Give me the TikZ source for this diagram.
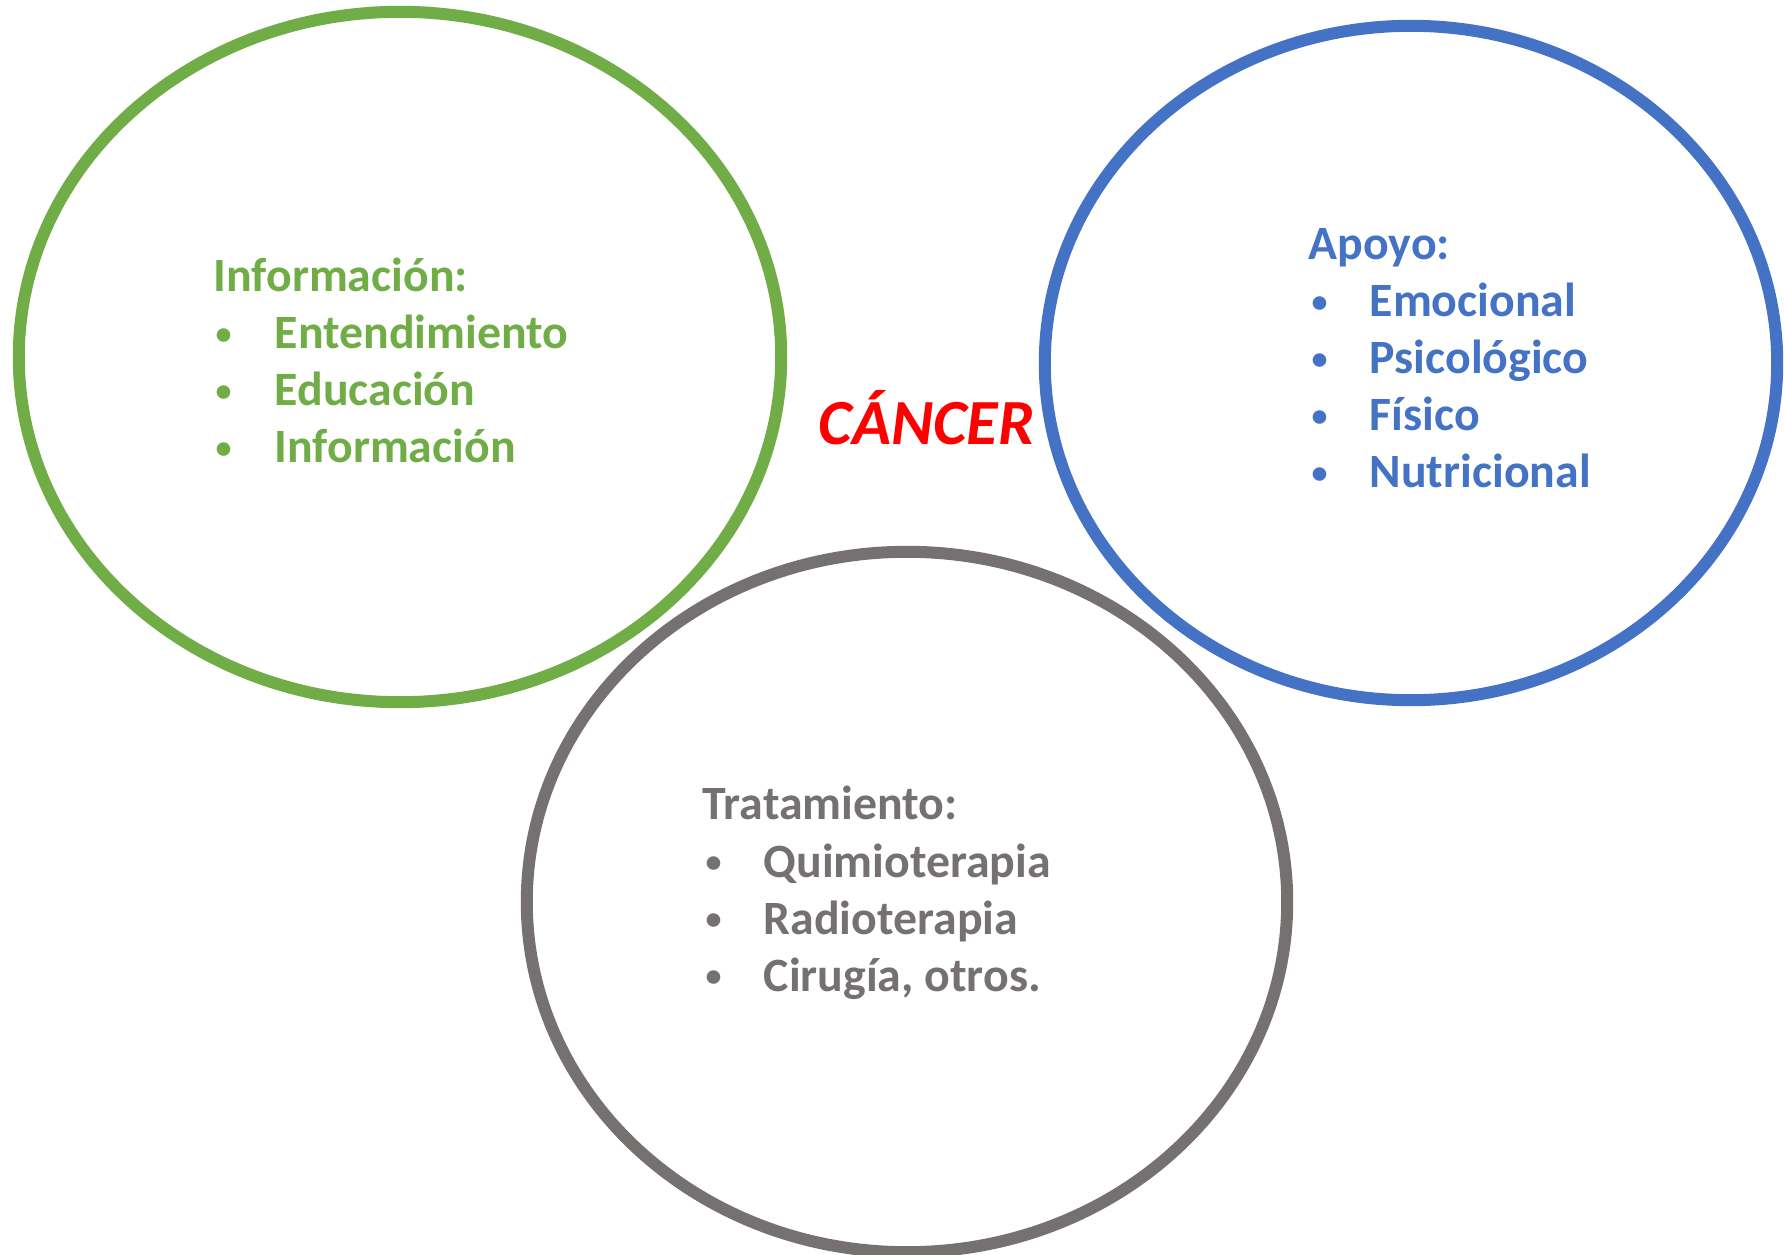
\documentclass[tikz,border=0pt]{standalone}
\usepackage{fontspec}
\setmainfont{Carlito}
\usetikzlibrary{shapes.geometric,positioning}
\definecolor{infogreen}{HTML}{70AD47}
\definecolor{apoyoblue}{HTML}{4472C4}
\definecolor{tratgray}{HTML}{767171}
\definecolor{cancerred}{HTML}{FF0000}
\newcommand{\smallbul}{\raisebox{1.4pt}{\scalebox{0.67}{•}}}

\begin{document}
\begin{tikzpicture}[
    x=0.01cm, y=-0.01cm,
    area/.style={ellipse, draw, line width=0.12cm, inner sep=0pt},
    label/.style={anchor=base west, inner sep=0pt,
                  font=\fontsize{13.6}{16.4}\selectfont\bfseries}
]
\useasboundingbox (0,0) rectangle (1784,1255);

% Ellipses
\node[area, draw=infogreen, minimum width=7.62cm, minimum height=6.90cm] (E1) at (400,357) {};
\node[area, draw=apoyoblue, minimum width=7.32cm, minimum height=6.74cm] (E2) at (1411,363) {};
\node[area, draw=tratgray, minimum width=7.60cm, minimum height=7.00cm] (E3) at (907,902) {};

% Centre
\node[anchor=base west, inner sep=0pt, text=cancerred,
      font=\fontsize{18.3}{22}\selectfont\bfseries\itshape] (C) at (818,445) {CÁNCER};

% Labels
\node[label, infogreen] (T1) at (213,292) {Información:};
\foreach \t [count=\i] in {Entendimiento, Educación, Información}{
  \node[label, infogreen] (B1\i) at (215,292+57*\i) {\smallbul};
  \node[label, infogreen] (L1\i) at (274,292+57*\i) {\t};
}
\node[label, apoyoblue] (T2) at (1308,260) {Apoyo:};
\foreach \t [count=\i] in {Emocional, Psicológico, Físico, Nutricional}{
  \node[label, apoyoblue] (B2\i) at (1311,260+57*\i) {\smallbul};
  \node[label, apoyoblue] (L2\i) at (1369,260+57*\i) {\t};
}
\node[label, tratgray] (T3) at (702,820) {Tratamiento:};
\foreach \t [count=\i] in {Quimioterapia, Radioterapia, {Cirugía, otros.}}{
  \node[label, tratgray] (B3\i) at (705,820+57*\i) {\smallbul};
  \node[label, tratgray] (L3\i) at (763,820+57*\i) {\t};
}

\end{tikzpicture}
\end{document}
